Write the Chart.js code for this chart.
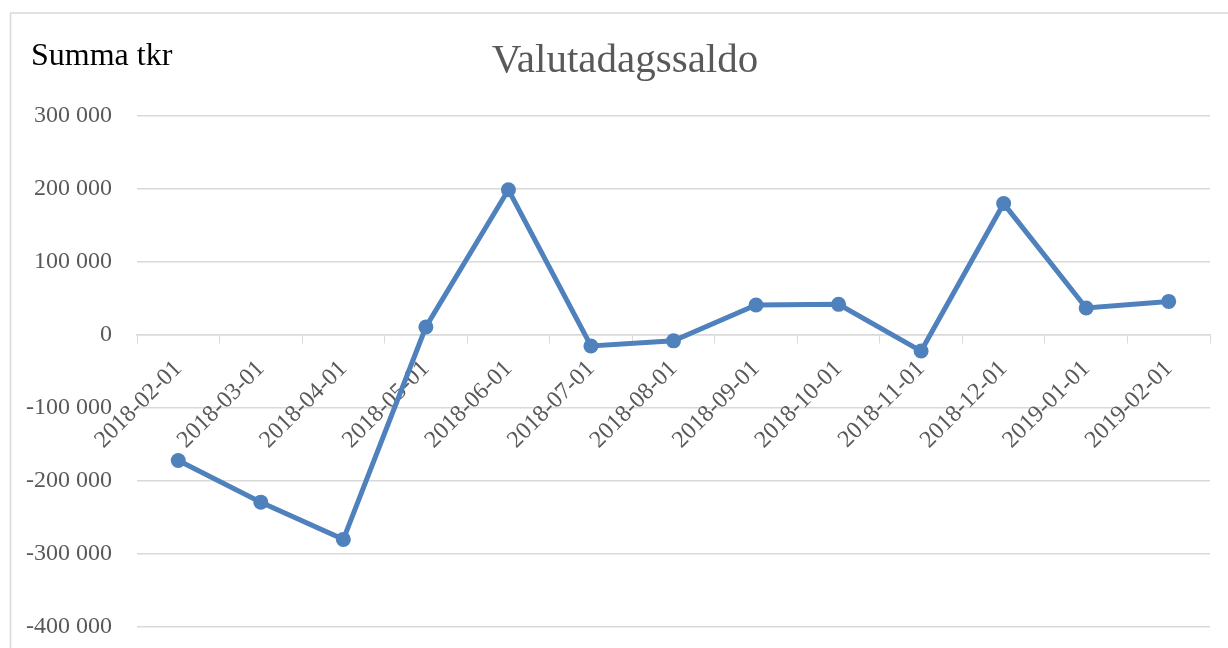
<!DOCTYPE html>
<html>
<head>
<meta charset="utf-8">
<script src="https://cdn.jsdelivr.net/npm/chart.js@4.4.1/dist/chart.umd.min.js"></script>
<style>
  html, body { margin: 0; padding: 0; background: #fff; }
  #wrap { width: 1228px; height: 648px; position: relative; }
</style>
</head>
<body>
<div id="wrap"><canvas id="c" width="1228" height="648"></canvas></div>
<script>
const categories = ['2018-02-01','2018-03-01','2018-04-01','2018-05-01','2018-06-01','2018-07-01','2018-08-01','2018-09-01','2018-10-01','2018-11-01','2018-12-01','2019-01-01','2019-02-01'];
const saldo = [-172000, -229000, -280000, 11000, 199000, -15000, -8000, 41000, 42000, -22000, 180000, 37000, 46000];
const yTickValues = [300000, 200000, 100000, 0, -100000, -200000, -300000, -400000];
const chartTitle = 'Valutadagssaldo';
const unitLabel = 'Summa tkr';

function fmt(v) {
  const s = Math.abs(v).toString().replace(/\B(?=(\d{3})+(?!\d))/g, ' ');
  return (v < 0 ? '-' : '') + s;
}

const serif = '"Liberation Serif", "Times New Roman", serif';
const grey = '#d9d9d9';
const textGrey = '#595959';
const blue = '#4F81BD';

const frame = {
  id: 'frame',
  beforeDraw(chart) {
    const ctx = chart.ctx;
    ctx.save();
    ctx.strokeStyle = grey;
    ctx.lineWidth = 1.5;
    ctx.beginPath();
    ctx.moveTo(10.5, 648);
    ctx.lineTo(10.5, 13);
    ctx.lineTo(1228, 13);
    ctx.stroke();
    ctx.restore();
  }
};

const texts = {
  id: 'texts',
  afterDraw(chart) {
    const ctx = chart.ctx;
    ctx.save();
    ctx.textBaseline = 'alphabetic';
    ctx.font = '32px ' + serif;
    ctx.fillStyle = '#000000';
    ctx.textAlign = 'left';
    ctx.fillText(unitLabel, 31, 65);
    ctx.font = '41px ' + serif;
    ctx.fillStyle = textGrey;
    ctx.textAlign = 'center';
    ctx.fillText(chartTitle, 625, 72);
    ctx.restore();
  }
};

new Chart(document.getElementById('c'), {
  type: 'line',
  data: {
    labels: categories,
    datasets: [{
      data: saldo,
      borderColor: blue,
      backgroundColor: blue,
      borderWidth: 5,
      pointRadius: 7.5,
      pointHoverRadius: 7.5,
      pointBorderWidth: 0,
      pointBackgroundColor: blue,
      tension: 0,
      fill: false
    }]
  },
  options: {
    responsive: false,
    devicePixelRatio: 1,
    animation: false,
    layout: { padding: { left: 12, right: 18, top: 116, bottom: 21 } },
    plugins: {
      legend: { display: false },
      tooltip: { enabled: false },
      title: { display: false }
    },
    scales: {
      x: {
        type: 'category',
        position: { y: 0 },
        offset: true,
        grid: {
          display: true,
          drawOnChartArea: false,
          drawTicks: true,
          tickLength: 8,
          color: grey,
          offset: true
        },
        border: { display: true, color: grey, width: 1.5 },
        ticks: {
          autoSkip: false,
          minRotation: 45,
          maxRotation: 45,
          padding: 12,
          color: textGrey,
          font: { family: serif, size: 24 }
        }
      },
      y: {
        min: -400000,
        max: 300000,
        afterFit(scale) { scale.width = 125; },
        afterBuildTicks(scale) { scale.ticks = yTickValues.map(v => ({ value: v })); },
        grid: { color: grey, lineWidth: 1.5, drawTicks: true, tickLength: 25, tickColor: 'rgba(0,0,0,0)' },
        border: { display: false },
        ticks: {
          stepSize: 100000,
          padding: 0,
          color: textGrey,
          font: { family: serif, size: 24 },
          callback: (v) => fmt(v)
        }
      }
    }
  },
  plugins: [frame, texts]
});
</script>
</body>
</html>
